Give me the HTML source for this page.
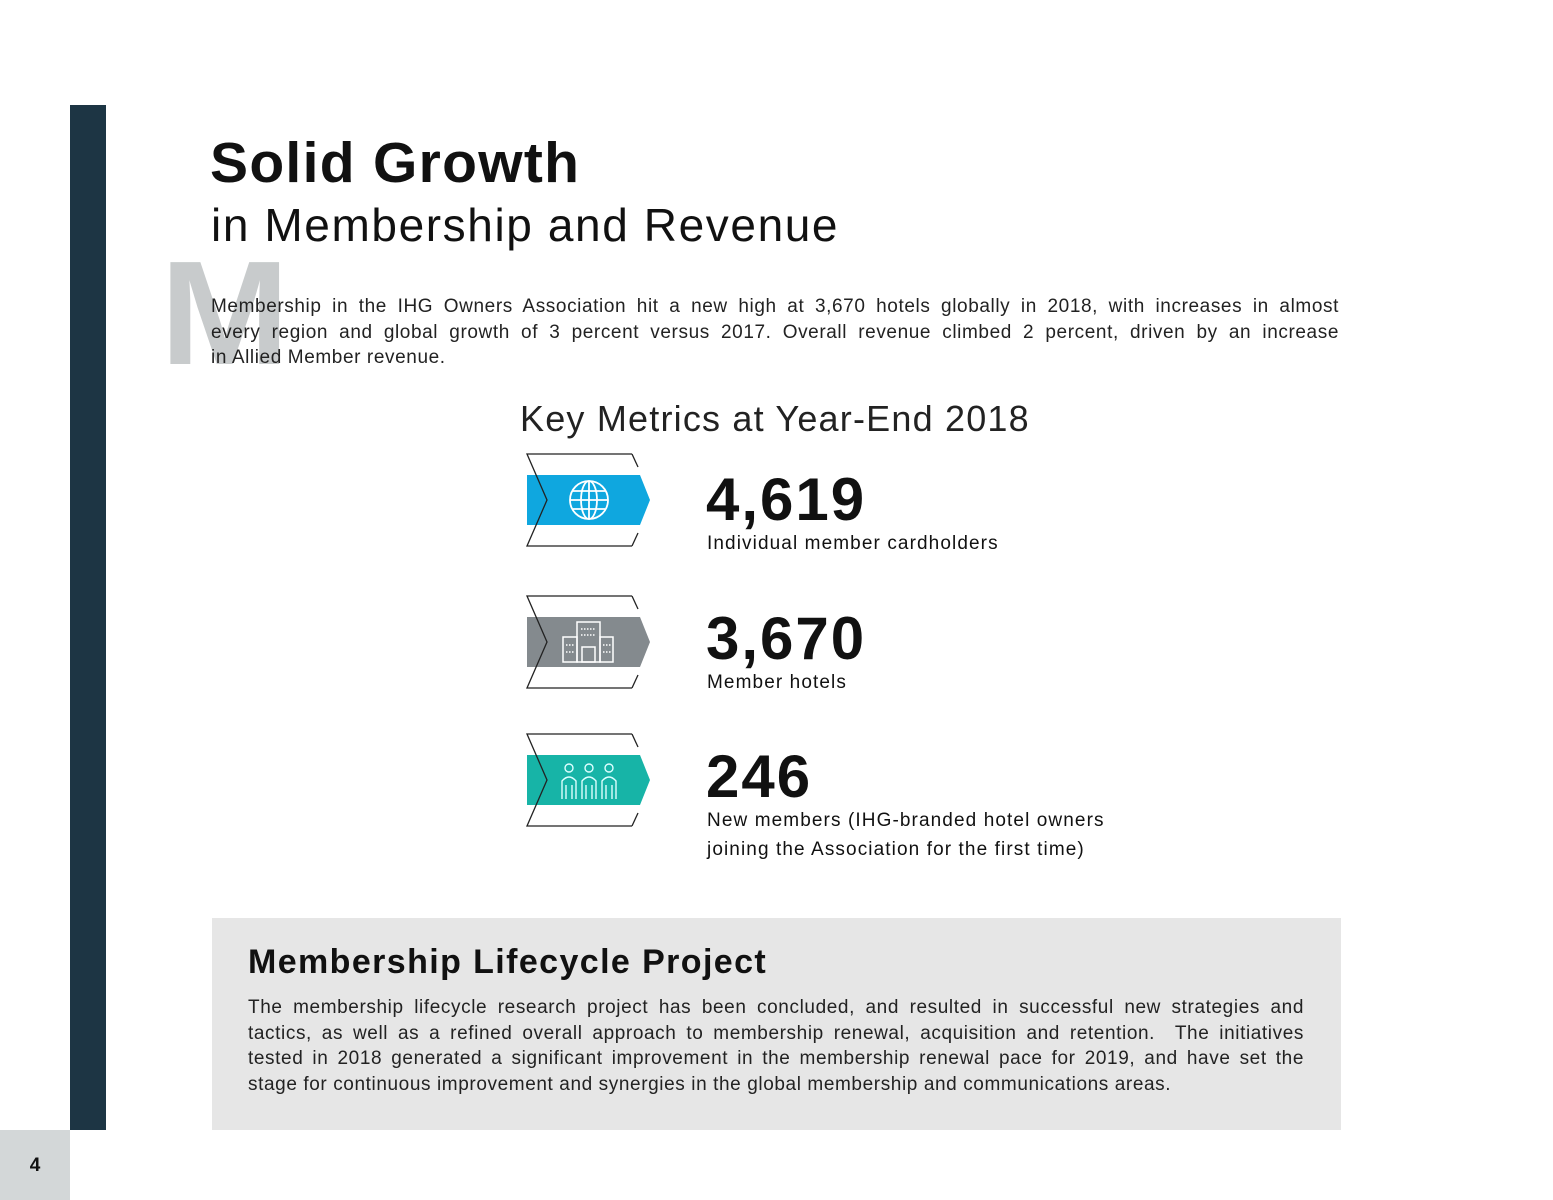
<!DOCTYPE html>
<html><head><meta charset="utf-8"><style>
body{margin:0;width:1553px;height:1200px;position:relative;background:#fff;font-family:"Liberation Sans",sans-serif;color:#111;overflow:hidden}
.a{position:absolute;margin:0}
.j{display:block;text-align:justify;text-align-last:justify;white-space:nowrap}
.j.l{text-align-last:left}
</style></head><body>
<div class="a" style="left:70px;top:105px;width:36px;height:1025px;background:#1d3544"></div>
<div class="a" style="left:0;top:1130px;width:70px;height:70px;background:#d3d7d8"></div>
<div class="a" style="left:0;top:1155px;width:70px;text-align:center;font-weight:bold;font-size:19px">4</div>
<div class="a" style="left:160px;top:240px;font-size:148px;font-weight:bold;color:#c8cbcc;line-height:1;transform:scaleX(1.05);transform-origin:left">M</div>
<h1 class="a" style="left:210px;top:132px;font-size:57px;font-weight:900;letter-spacing:1.3px;line-height:1.1">Solid Growth</h1>
<h2 class="a" style="left:211px;top:200px;font-size:46px;font-weight:normal;letter-spacing:1.6px;line-height:1.1">in Membership and Revenue</h2>
<p class="a" style="left:211px;top:294px;width:1128px;font-size:19px;line-height:25.5px;letter-spacing:0.6px;color:#222">
<span class="j">Membership in the IHG Owners Association hit a new high at 3,670 hotels globally in 2018, with increases in almost</span>
<span class="j">every region and global growth of 3 percent versus 2017. Overall revenue climbed 2 percent, driven by an increase</span>
<span class="j l">in Allied Member revenue.</span></p>
<div class="a" style="left:520px;top:399px;font-size:36px;letter-spacing:1.2px;line-height:1.1;color:#222">Key Metrics at Year-End 2018</div>

<svg class="a" style="left:0;top:0" width="1553" height="1200">
<g transform="translate(0,0)">
<polygon points="527,475 640,475 650,500 640,525 527,525" fill="#0fa7df"/>
<polyline points="632,454 527,454 547,500 527,546 632,546" fill="none" stroke="#222" stroke-width="1.3"/>
<line x1="632" y1="454" x2="638" y2="467" stroke="#222" stroke-width="1.3"/><line x1="632" y1="546" x2="638" y2="533" stroke="#222" stroke-width="1.3"/>
<g fill="none" stroke="#fff" stroke-width="1.8"><circle cx="589" cy="500" r="19"/><ellipse cx="589" cy="500" rx="8" ry="19"/><line x1="589" y1="481" x2="589" y2="519"/><line x1="570" y1="500" x2="608" y2="500"/><line x1="573" y1="491" x2="605" y2="491"/><line x1="573" y1="509" x2="605" y2="509"/></g>
</g>
<g transform="translate(0,142)">
<polygon points="527,475 640,475 650,500 640,525 527,525" fill="#848a8e"/>
<polyline points="632,454 527,454 547,500 527,546 632,546" fill="none" stroke="#222" stroke-width="1.3"/>
<line x1="632" y1="454" x2="638" y2="467" stroke="#222" stroke-width="1.3"/><line x1="632" y1="546" x2="638" y2="533" stroke="#222" stroke-width="1.3"/>
<g fill="none" stroke="#fff" stroke-width="1.5"><rect x="577" y="480" width="23" height="40"/><rect x="563" y="495" width="14" height="25"/><rect x="600" y="495" width="13" height="25"/><rect x="582" y="505" width="13" height="15"/><line x1="581" y1="487" x2="596" y2="487" stroke-dasharray="1.5 1.5"/><line x1="581" y1="493" x2="596" y2="493" stroke-dasharray="1.5 1.5"/><line x1="566" y1="503" x2="574" y2="503" stroke-dasharray="1.5 1.5"/><line x1="603" y1="503" x2="611" y2="503" stroke-dasharray="1.5 1.5"/><line x1="566" y1="510" x2="574" y2="510" stroke-dasharray="1.5 1.5"/><line x1="603" y1="510" x2="611" y2="510" stroke-dasharray="1.5 1.5"/></g>
</g>
<g transform="translate(0,280)">
<polygon points="527,475 640,475 650,500 640,525 527,525" fill="#17b4a7"/>
<polyline points="632,454 527,454 547,500 527,546 632,546" fill="none" stroke="#222" stroke-width="1.3"/>
<line x1="632" y1="454" x2="638" y2="467" stroke="#222" stroke-width="1.3"/><line x1="632" y1="546" x2="638" y2="533" stroke="#222" stroke-width="1.3"/>
<g fill="none" stroke="#dff" stroke-width="1.4">
<circle cx="569" cy="488" r="4"/><path d="M562,519 V501 Q569,493 576,501 V519 M566,519 V505 M572,519 V505"/>
<circle cx="589" cy="488" r="4"/><path d="M582,519 V501 Q589,493 596,501 V519 M586,519 V505 M592,519 V505"/>
<circle cx="609" cy="488" r="4"/><path d="M602,519 V501 Q609,493 616,501 V519 M606,519 V505 M612,519 V505"/>
</g></g>
</svg>

<div class="a" style="left:706px;top:467px;font-size:60px;font-weight:900;letter-spacing:2px;line-height:1.1">4,619</div>
<div class="a" style="left:707px;top:531px;font-size:19px;letter-spacing:1.1px;line-height:25px">Individual member cardholders</div>
<div class="a" style="left:706px;top:606px;font-size:60px;font-weight:900;letter-spacing:2px;line-height:1.1">3,670</div>
<div class="a" style="left:707px;top:670px;font-size:19px;letter-spacing:1.1px;line-height:25px">Member hotels</div>
<div class="a" style="left:706px;top:744px;font-size:60px;font-weight:900;letter-spacing:2px;line-height:1.1">246</div>
<div class="a" style="left:707px;top:806px;font-size:19px;letter-spacing:1.1px;line-height:29px">New members (IHG-branded hotel owners<br>joining the Association for the first time)</div>

<div class="a" style="left:212px;top:918px;width:1129px;height:212px;background:#e6e6e6"></div>
<div class="a" style="left:248px;top:944px;font-size:34px;font-weight:bold;letter-spacing:1.4px;line-height:1.1">Membership Lifecycle Project</div>
<p class="a" style="left:248px;top:995px;width:1056px;font-size:19px;line-height:25.5px;letter-spacing:0.6px;color:#222">
<span class="j">The membership lifecycle research project has been concluded, and resulted in successful new strategies and</span>
<span class="j">tactics, as well as a refined overall approach to membership renewal, acquisition and retention. &nbsp;The initiatives</span>
<span class="j">tested in 2018 generated a significant improvement in the membership renewal pace for 2019, and have set the</span>
<span class="j l">stage for continuous improvement and synergies in the global membership and communications areas.</span></p>
</body></html>
